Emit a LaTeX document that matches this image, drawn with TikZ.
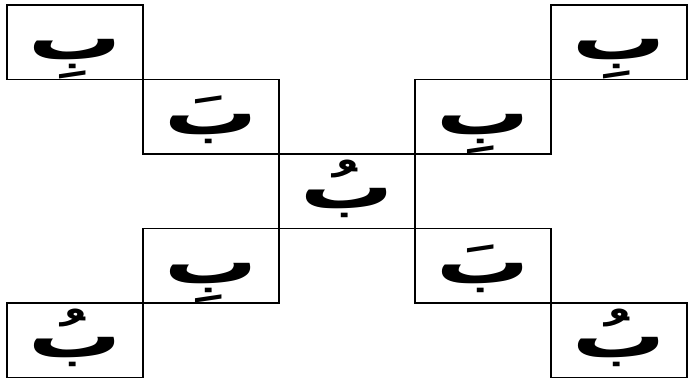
\documentclass[tikz,border=0pt]{standalone}
\usepackage{fontspec}
\newfontfamily\arabicfont[Script=Arabic, FakeStretch=1.5]{DejaVu Sans}
\TeXXeTstate=1

\begin{document}
\begin{tikzpicture}[x=0.025cm, y=-0.025cm,
  cell/.style={draw, line width=1.1pt, minimum width=3.4cm,
    text height=1.3625cm, text depth=0.5cm, inner sep=0pt,
    font=\arabicfont\bfseries\fontsize{44}{44}\selectfont}
]
\useasboundingbox (0,0) rectangle (690,381);
% top row
\node[cell] (topleft) at (75,42.25) {\beginR بِ\endR};
\node[cell] (topright) at (619,42.25) {\beginR بِ\endR};
% second row
\node[cell] (upleft) at (211,116.75) {\beginR بَ\endR};
\node[cell] (upright) at (483,116.75) {\beginR بِ\endR};
% centre
\node[cell] (centre) at (347,191.25) {\beginR بُ\endR};
% fourth row
\node[cell] (lowleft) at (211,265.75) {\beginR بِ\endR};
\node[cell] (lowright) at (483,265.75) {\beginR بَ\endR};
% bottom row
\node[cell] (botleft) at (75,340.25) {\beginR بُ\endR};
\node[cell] (botright) at (619,340.25) {\beginR بُ\endR};
\end{tikzpicture}
\end{document}
